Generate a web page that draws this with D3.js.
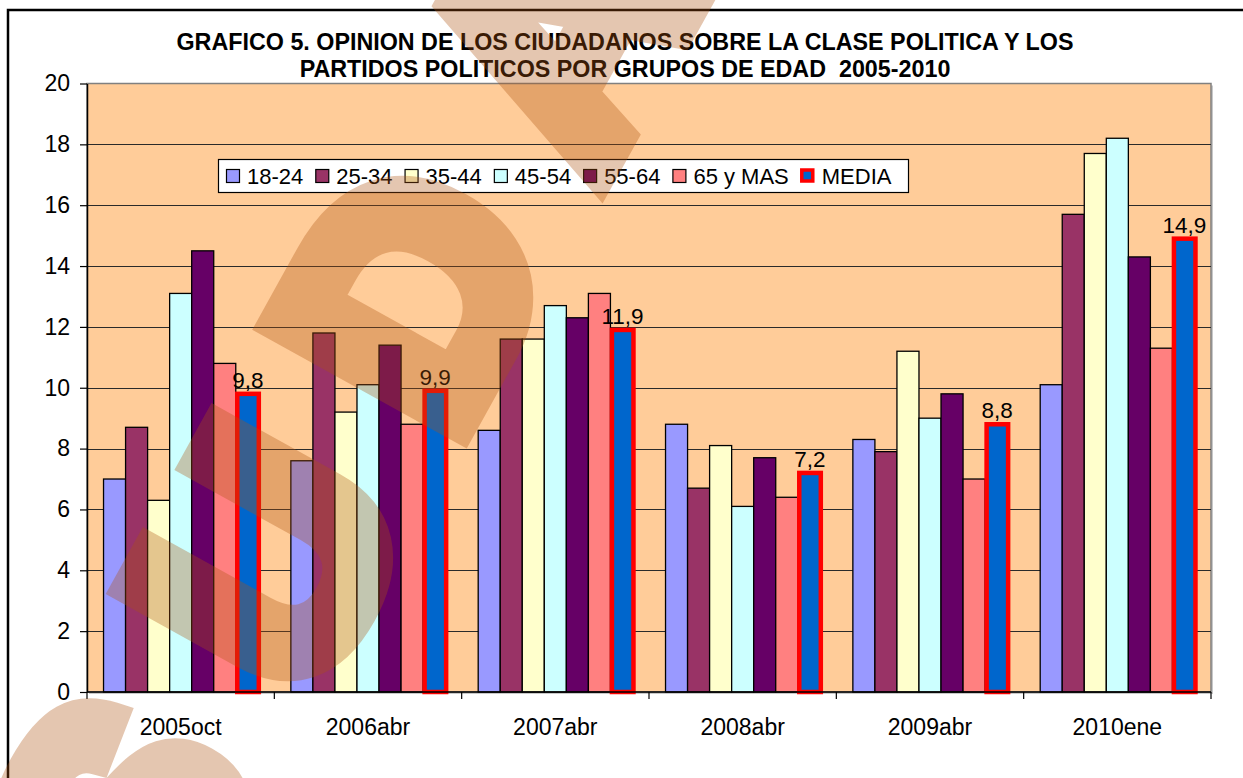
<!DOCTYPE html>
<html>
<head>
<meta charset="utf-8">
<script src="https://cdn.jsdelivr.net/npm/d3@7"></script>
<style>
  body { margin: 0; background: #fff; }
  svg { display: block; }
  text { font-family: "Liberation Sans", Arial, sans-serif; white-space: pre; }
</style>
</head>
<body>
<div id="chart"></div>
<script>

// data
const categories = ["2005oct", "2006abr", "2007abr", "2008abr", "2009abr", "2010ene"];
const series = ["18-24", "25-34", "35-44", "45-54", "55-64", "65 y MAS", "MEDIA"];
const age1824 = [7.0, 7.6, 8.6, 8.8, 8.3, 10.1];
const age2534 = [8.7, 11.8, 11.6, 6.7, 7.9, 15.7];
const age3544 = [6.3, 9.2, 11.6, 8.1, 11.2, 17.7];
const age4554 = [13.1, 10.1, 12.7, 6.1, 9.0, 18.2];
const age5564 = [14.5, 11.4, 12.3, 7.7, 9.8, 14.3];
const age65 = [10.8, 8.8, 13.1, 6.4, 7.0, 11.3];
const media = [9.8, 9.9, 11.9, 7.2, 8.8, 14.9];
const yTicks = [0, 2, 4, 6, 8, 10, 12, 14, 16, 18, 20];
const titleLines = [
	"GRAFICO 5. OPINION DE LOS CIUDADANOS SOBRE LA CLASE POLITICA Y LOS",
	"PARTIDOS POLITICOS POR GRUPOS DE EDAD  2005-2010"
];

var width = 1243, height = 778;
var plot = { left: 87, right: 1211, top: 83.5, bottom: 692 };

var colors = ["#9999FF", "#993366", "#FFFFCC", "#CCFFFF", "#660066", "#FF8080", "#0066CC"];
var values = [age1824, age2534, age3544, age4554, age5564, age65, media];

var svg = d3.select("#chart")
	.append("svg")
	.attr("width", width)
	.attr("height", height);

// outer chart frame (runs off the right / bottom of the picture)
svg.append("path")
	.attr("d", "M8,900V10H1400")
	.attr("fill", "none")
	.attr("stroke", "#000")
	.attr("stroke-width", 2.5);

// title
svg.selectAll(".title")
	.data(titleLines)
	.join("text")
	.attr("class", "title")
	.attr("x", 625)
	.attr("y", (d, i) => 50 + i * 27)
	.attr("text-anchor", "middle")
	.attr("font-size", "23.3px")
	.attr("font-weight", "bold")
	.text(d => d);

const x0 = d3.scaleBand()
	.domain(categories)
	.range([plot.left, plot.right]);

// excel style gap width of 150%
const barW = x0.bandwidth() / (series.length + 1.5);
const x1 = d3.scaleBand()
	.domain(series)
	.range([0.75 * barW, 0.75 * barW + barW * series.length]);

const y = d3.scaleLinear()
	.domain([0, 20])
	.range([plot.bottom, plot.top]);

// plot area
svg.append("rect")
	.attr("x", plot.left + 2)
	.attr("y", plot.top + 2)
	.attr("width", plot.right - plot.left)
	.attr("height", plot.bottom - plot.top)
	.attr("fill", "#c8c8c8");
svg.append("rect")
	.attr("x", plot.left)
	.attr("y", plot.top)
	.attr("width", plot.right - plot.left)
	.attr("height", plot.bottom - plot.top)
	.attr("fill", "#FFCC99")
	.attr("stroke", "#808080")
	.attr("stroke-width", 1.5);

// gridlines
svg.append("g")
	.selectAll("line")
	.data(yTicks.filter(d => d > 0 && d < 20))
	.join("line")
	.attr("x1", plot.left)
	.attr("x2", plot.right)
	.attr("y1", d => Math.round(y(d)) + 0.5)
	.attr("y2", d => Math.round(y(d)) + 0.5)
	.attr("stroke", "#2a2a2a")
	.attr("stroke-width", 1.2);

// bars
var rows = [];
categories.forEach((c, ci) => {
	series.forEach((s, si) => {
		rows.push({ cat: c, key: s, si: si, value: values[si][ci] });
	});
});

const gBars = svg.append("g");
gBars.selectAll("rect")
	.data(rows.filter(d => d.key !== "MEDIA"))
	.join("rect")
	.attr("x", d => x0(d.cat) + x1(d.key))
	.attr("y", d => y(d.value))
	.attr("width", x1.bandwidth())
	.attr("height", d => y(0) - y(d.value))
	.attr("fill", d => colors[d.si])
	.attr("stroke", "#000")
	.attr("stroke-width", 1.3);

const mediaRows = rows.filter(d => d.key === "MEDIA");
gBars.selectAll(".media")
	.data(mediaRows)
	.join("rect")
	.attr("class", "media")
	.attr("x", d => x0(d.cat) + x1(d.key) + 1.5)
	.attr("y", d => y(d.value))
	.attr("width", x1.bandwidth() - 0.5)
	.attr("height", d => y(0) - y(d.value))
	.attr("fill", colors[6])
	.attr("stroke", "#FF0000")
	.attr("stroke-width", 4.5);

// labels on MEDIA
svg.append("g")
	.selectAll("text")
	.data(mediaRows)
	.join("text")
	.attr("x", d => x0(d.cat) + x1(d.key) + x1.bandwidth() / 2 + 1)
	.attr("y", d => y(d.value) - 6)
	.attr("text-anchor", "middle")
	.attr("font-size", "22.5px")
	.text(d => d3.format(".1f")(d.value).replace(".", ","));

// y axis
const yAxis = svg.append("g")
	.attr("transform", "translate(" + plot.left + ",0)")
	.call(d3.axisLeft(y).tickValues(yTicks).tickSize(7).tickPadding(10).tickSizeOuter(0));
yAxis.selectAll("text").attr("font-size", "23px").attr("fill", "#000").attr("font-family", "Liberation Sans, Arial");
yAxis.select(".domain").attr("stroke-width", 1.5);
yAxis.selectAll(".tick line").attr("stroke-width", 1.2);

// x axis, ticks on the category boundaries
const xAxis = svg.append("g")
	.attr("transform", "translate(0," + plot.bottom + ")");
xAxis.append("line")
	.attr("x1", plot.left)
	.attr("x2", plot.right)
	.attr("stroke", "#000")
	.attr("stroke-width", 1.5);
xAxis.selectAll(".xtick")
	.data(categories.concat(["end"]))
	.join("line")
	.attr("class", "xtick")
	.attr("x1", (d, i) => plot.left + i * x0.step())
	.attr("x2", (d, i) => plot.left + i * x0.step())
	.attr("y1", 0)
	.attr("y2", 7)
	.attr("stroke", "#000")
	.attr("stroke-width", 1.2);
xAxis.selectAll(".xlabel")
	.data(categories)
	.join("text")
	.attr("class", "xlabel")
	.attr("x", d => x0(d) + x0.bandwidth() / 2)
	.attr("y", 43)
	.attr("text-anchor", "middle")
	.attr("font-size", "23px")
	.text(d => d);

// legend
const legend = svg.append("g");
legend.append("rect")
	.attr("x", 218.5)
	.attr("y", 159.5)
	.attr("width", 690)
	.attr("height", 33)
	.attr("fill", "#fff")
	.attr("stroke", "#000")
	.attr("stroke-width", 1.2);
var lx = 226;
series.forEach((s, i) => {
	if (s === "MEDIA") {
		legend.append("rect")
			.attr("x", lx + 1).attr("y", 170).attr("width", 11).attr("height", 11)
			.attr("fill", colors[i]).attr("stroke", "#FF0000").attr("stroke-width", 3.5);
	} else {
		legend.append("rect")
			.attr("x", lx + 0.5).attr("y", 169.5).attr("width", 13).attr("height", 13)
			.attr("fill", colors[i]).attr("stroke", "#000").attr("stroke-width", 1.2);
	}
	const t = legend.append("text")
		.attr("x", lx + 21)
		.attr("y", 184)
		.attr("font-size", "22px")
		.text(s);
	lx += 21 + t.node().getComputedTextLength() + 12;
});

// watermark, drawn over everything
const wmLetters = ["S", "U", "D", "A"];
const wmDir = [0.485, -0.875];
const wmCenter = [334, 424];
const wmStep = 300;
const wm = svg.append("g").attr("opacity", 0.33);
wmLetters.forEach((l, i) => {
	const k = (i - 1.5) * wmStep;
	const cx = wmCenter[0] + k * wmDir[0];
	const cy = wmCenter[1] + k * wmDir[1];
	wm.append("text")
		.attr("transform", "translate(" + cx + "," + cy + ") rotate(-61)")
		.attr("y", 112)
		.attr("text-anchor", "middle")
		.attr("font-size", "310px")
		.attr("font-weight", "bold")
		.attr("fill", "rgb(174,84,18)")
		.attr("stroke", "rgb(174,84,18)")
		.attr("stroke-width", 32)
		.attr("stroke-linejoin", "miter")
		.text(l);
});

</script>
</body>
</html>
